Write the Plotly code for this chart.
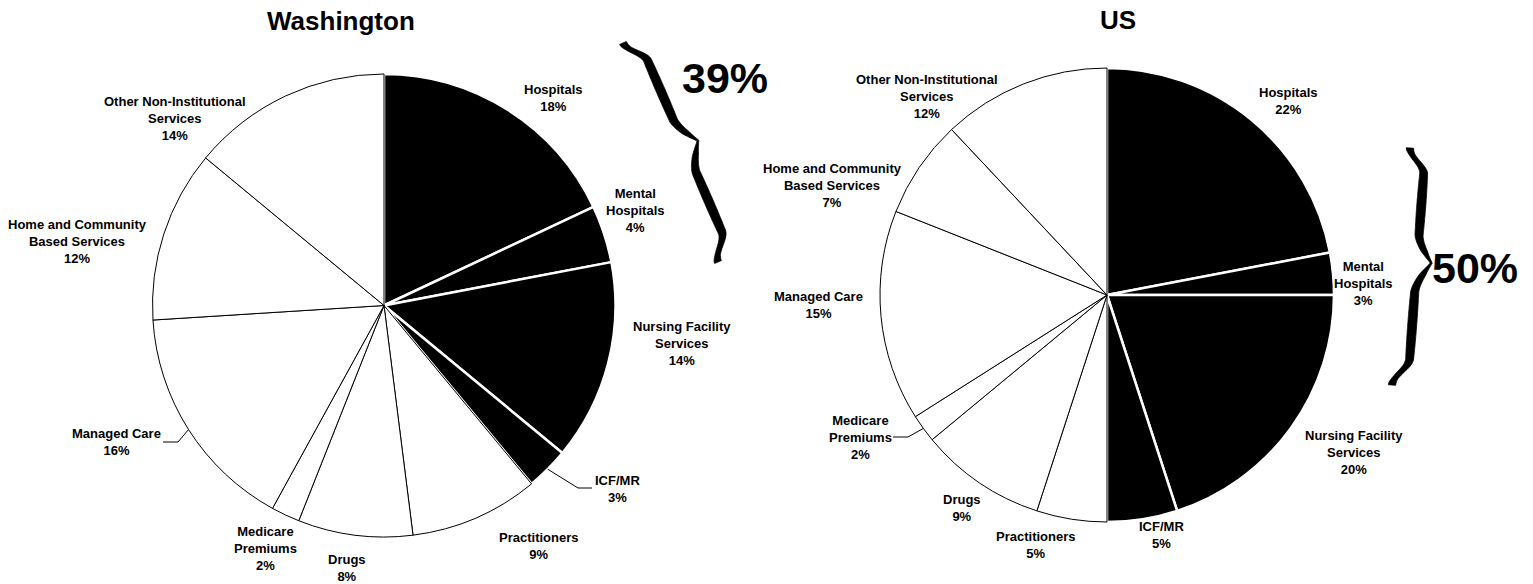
import numpy as np
import plotly.graph_objects as go

# ---- data -------------------------------------------------------------
categories = [
    "Hospitals", "Mental Hospitals", "Nursing Facility Services", "ICF/MR",
    "Practitioners", "Drugs", "Medicare Premiums", "Managed Care",
    "Home and Community Based Services", "Other Non-Institutional Services",
]
washington_pct = [18, 4, 14, 3, 9, 8, 2, 16, 12, 14]
us_pct = [22, 3, 20, 5, 5, 9, 2, 15, 7, 12]
institutional = ["Hospitals", "Mental Hospitals", "Nursing Facility Services", "ICF/MR"]
washington_total = 39
us_total = 50

# line-broken display names for the slice labels
display_name = {
    "Hospitals": "Hospitals",
    "Mental Hospitals": "Mental<br>Hospitals",
    "Nursing Facility Services": "Nursing Facility<br>Services",
    "ICF/MR": "ICF/MR",
    "Practitioners": "Practitioners",
    "Drugs": "Drugs",
    "Medicare Premiums": "Medicare<br>Premiums",
    "Managed Care": "Managed Care",
    "Home and Community Based Services": "Home and Community<br>Based Services",
    "Other Non-Institutional Services": "Other Non-Institutional<br>Services",
}

# ---- layout -----------------------------------------------------------
W, H = 1533, 584
FONT = "Liberation Sans, Arial, sans-serif"


def X(x):
    return x / W


def Y(y):
    return 1 - y / H


# pie centres / radii in pixels
pies = {
    "wa": dict(cx=384, cy=305.5, r=231.5),
    "us": dict(cx=1107, cy=295, r=227),
}

# label block centres (pixels)
wa_label_pos = [(553, 98), (635, 211), (682, 343), (617, 489), (538, 546),
                (347, 568), (265, 548), (116, 442), (77, 241), (175, 118)]
us_label_pos = [(1288, 101), (1363, 284), (1354, 452), (1161, 535), (1035, 545),
                (962, 508), (860, 437), (818, 305), (832, 185), (927, 97)]

# leader lines: slice -> (label end point, elbow point)
wa_leaders = {"ICF/MR": [(592, 488), (578, 488)],
              "Managed Care": [(163, 442), (178, 442)]}
us_leaders = {"Medicare Premiums": [(893, 437), (908, 437)]}

fill = ["black" if c in institutional else "white" for c in categories]
edge = ["white" if c in institutional else "black" for c in categories]
edge_w = [2.5 if c in institutional else 1 for c in categories]

fig = go.Figure()
for key, vals in (("wa", washington_pct), ("us", us_pct)):
    p = pies[key]
    fig.add_trace(go.Pie(
        values=vals,
        labels=categories,
        sort=False,
        direction="clockwise",
        rotation=0,
        domain=dict(x=[X(p["cx"] - p["r"]), X(p["cx"] + p["r"])],
                    y=[Y(p["cy"] + p["r"]), Y(p["cy"] - p["r"])]),
        marker=dict(colors=fill, line=dict(color=edge, width=edge_w)),
        textinfo="none",
        hoverinfo="label+value",
        showlegend=False,
    ))

annotations = []
shapes = []


def slice_edge_point(vals, idx, p):
    """Point on the pie rim at the middle of slice idx (clockwise from 12 o'clock)."""
    total = sum(vals)
    mid = (sum(vals[:idx]) + vals[idx] / 2) / total * 2 * np.pi
    return p["cx"] + p["r"] * np.sin(mid), p["cy"] - p["r"] * np.cos(mid)


def text(x, y, s, size):
    return dict(x=X(x), y=Y(y), xref="paper", yref="paper", text=s,
                showarrow=False, xanchor="center", yanchor="middle",
                font=dict(family=FONT, size=size, color="black"))


for key, vals, pos, leaders in (("wa", washington_pct, wa_label_pos, wa_leaders),
                                ("us", us_pct, us_label_pos, us_leaders)):
    for i, cat in enumerate(categories):
        lx, ly = pos[i]
        annotations.append(text(lx, ly, f"<b>{display_name[cat]}<br>{vals[i]}%</b>", 13))
        if cat in leaders:
            (ax, ay), (bx, by) = leaders[cat]
            ex, ey = slice_edge_point(vals, i, pies[key])
            shapes.append(dict(
                type="path", xref="paper", yref="paper",
                path=f"M {X(ax)} {Y(ay)} L {X(bx)} {Y(by)} L {X(ex)} {Y(ey)}",
                line=dict(color="black", width=1),
            ))

# chart titles
annotations.append(text(341, 21, "<b>Washington</b>", 26))
annotations.append(text(1118, 20, "<b>US</b>", 26))

# institutional share call-outs
annotations.append(text(725, 78, f"<b>{washington_total}%</b>", 43))
annotations.append(text(1475, 268, f"<b>{us_total}%</b>", 43))


def brace(p0, p1, width, tip_t=0.5, thick=9.0, n=200):
    """Filled right curly brace from p0 (top) to p1 (bottom), bulging to the right."""
    p0 = np.array(p0, float)
    p1 = np.array(p1, float)
    a = p1 - p0
    L = np.hypot(*a)
    right = np.array([a[1], -a[0]]) / L
    t = np.linspace(0, 1, n)
    u = np.where(t < tip_t, t / tip_t, (1 - t) / (1 - tip_t))

    def smooth(x):
        x = np.clip(x, 0, 1)
        return x * x * (3 - 2 * x)

    # centre-line offset: hook at the ends, flat body, sharp point at the tip
    d = 0.52 * smooth(u / 0.22) + 0.48 * np.clip((u - 0.76) / 0.24, 0, 1) ** 1.5
    # stroke thickness: swollen ends, full body, thin at the tip
    h = 2.0 + (thick - 2.0) * np.sin(np.pi * np.clip(u * 0.92 + 0.04, 0, 1)) ** 0.45
    h = h + 2.5 * np.exp(-(u / 0.04) ** 2)
    h = np.where(u > 0.9, h * (1 - 0.6 * (u - 0.9) / 0.1), h)
    centre = p0[None, :] + t[:, None] * a[None, :] + (d * width)[:, None] * right[None, :]
    left_side = centre - (h / 2)[:, None] * right[None, :]
    right_side = centre + (h / 2)[:, None] * right[None, :]
    pts = np.vstack([left_side, right_side[::-1]])
    path = "M " + " L ".join(f"{X(x):.5f} {Y(y):.5f}" for x, y in pts) + " Z"
    return dict(type="path", xref="paper", yref="paper", path=path,
                fillcolor="black", line=dict(color="black", width=0.8))


shapes.append(brace((623, 43), (718, 262), 30, tip_t=0.5))
shapes.append(brace((1410, 148), (1392, 385), 30, tip_t=0.476))

fig.update_layout(
    width=W, height=H,
    margin=dict(l=0, r=0, t=0, b=0),
    paper_bgcolor="white",
    plot_bgcolor="white",
    annotations=annotations,
    shapes=shapes,
)

fig.write_html("out.html", config={"displayModeBar": False})
